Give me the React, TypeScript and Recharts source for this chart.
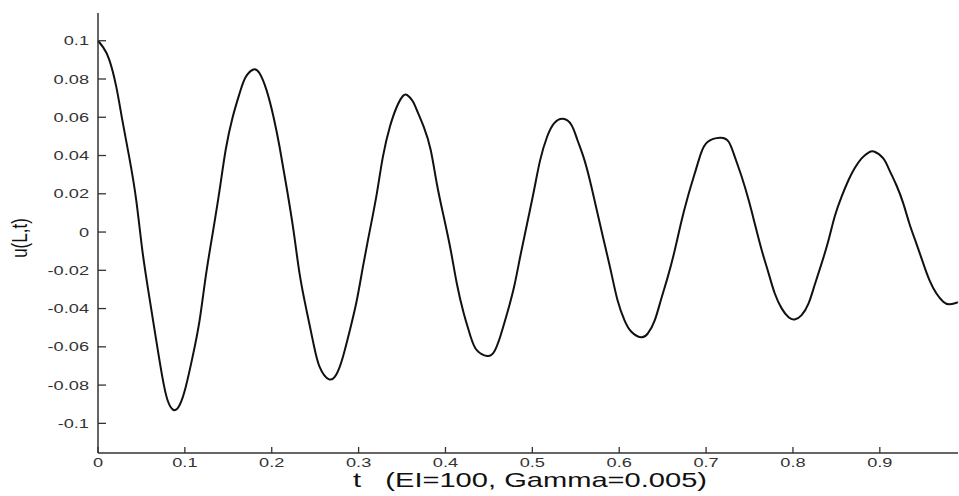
import { LineChart, Line, XAxis, YAxis } from "recharts";

// time samples
const tValues = [
  0, 0.006, 0.013, 0.021, 0.028, 0.036, 0.044, 0.051, 0.059, 0.067,
  0.074, 0.08, 0.087, 0.094, 0.101, 0.109, 0.117, 0.124, 0.132, 0.14,
  0.147, 0.155, 0.163, 0.17, 0.179, 0.186, 0.194, 0.202, 0.209, 0.217,
  0.225, 0.232, 0.24, 0.248, 0.255, 0.266, 0.275, 0.282, 0.29, 0.298,
  0.305, 0.313, 0.321, 0.328, 0.336, 0.344, 0.351, 0.356, 0.362, 0.367,
  0.375, 0.383, 0.39, 0.398, 0.406, 0.413, 0.421, 0.429, 0.436, 0.448,
  0.456, 0.463, 0.471, 0.479, 0.486, 0.494, 0.502, 0.509, 0.517, 0.525,
  0.535, 0.545, 0.552, 0.56, 0.568, 0.575, 0.583, 0.591, 0.598, 0.606,
  0.614, 0.625, 0.633, 0.641, 0.648, 0.656, 0.664, 0.671, 0.679, 0.687,
  0.694, 0.702, 0.716, 0.726, 0.733, 0.741, 0.749, 0.756, 0.764, 0.772,
  0.779, 0.787, 0.795, 0.802, 0.81, 0.818, 0.825, 0.833, 0.841, 0.848,
  0.856, 0.864, 0.871, 0.879, 0.887, 0.894, 0.904, 0.911, 0.919, 0.927,
  0.934, 0.942, 0.95, 0.957, 0.965, 0.973, 0.98, 0.988, 0.99,
];

// u(L,t) at those times
const uValues = [
  0.1, 0.0965, 0.09, 0.076, 0.0585, 0.039, 0.0167, -0.0094, -0.0338, -0.0565,
  -0.0756, -0.0878, -0.093, -0.0904, -0.081, -0.065, -0.046, -0.0233, -0.0007, 0.022,
  0.043, 0.06, 0.0725, 0.081, 0.085, 0.083, 0.0742, 0.0603, 0.0446, 0.0237,
  0.001, -0.0216, -0.0408, -0.0582, -0.0704, -0.077, -0.0739, -0.0652, -0.0512, -0.0355,
  -0.0181, 0.001, 0.0202, 0.0394, 0.055, 0.0655, 0.0711, 0.0716, 0.0686, 0.0638,
  0.055, 0.0429, 0.0254, 0.008, -0.0094, -0.0268, -0.0425, -0.0547, -0.0617, -0.0648,
  -0.0626, -0.0547, -0.0425, -0.0286, -0.0129, 0.0045, 0.022, 0.0376, 0.0498, 0.0568,
  0.0592, 0.056, 0.048, 0.0376, 0.0237, 0.0098, -0.0059, -0.0216, -0.0355, -0.046,
  -0.0521, -0.055, -0.053, -0.046, -0.0355, -0.0233, -0.0094, 0.0045, 0.0185, 0.0307,
  0.041, 0.0472, 0.0493, 0.0472, 0.0394, 0.0289, 0.0167, 0.0045, -0.0094, -0.0216,
  -0.032, -0.0399, -0.0446, -0.0457, -0.0434, -0.0373, -0.0277, -0.0164, -0.0042, 0.008,
  0.0185, 0.0272, 0.0333, 0.0385, 0.0415, 0.042, 0.0385, 0.0324, 0.0246, 0.015,
  0.0045, -0.0059, -0.0164, -0.025, -0.032, -0.0364, -0.0378, -0.037, -0.0368,
];

const xTicks = [0, 0.1, 0.2, 0.3, 0.4, 0.5, 0.6, 0.7, 0.8, 0.9];
const yTicks = [0.1, 0.08, 0.06, 0.04, 0.02, 0, -0.02, -0.04, -0.06, -0.08, -0.1];

const data = tValues.map((t, i) => ({ t, u: uValues[i] }));

const FONT = "'Liberation Sans', Arial, Helvetica, sans-serif";
const fmt = (v: number) => String(Number(v.toFixed(3)));

const LeftTick = (props: any) => {
  const { x, y, payload } = props;
  const ax = x + 9;
  return (
    <g>
      <line x1={ax} y1={y} x2={ax + 8} y2={y} stroke="#333" strokeWidth={1.3} />
      <text
        transform={`translate(${x},${y}) scale(1.4,1)`}
        textAnchor="end"
        dy="0.35em"
        fontSize={13}
        fontFamily={FONT}
        fill="#333"
      >
        {fmt(payload.value)}
      </text>
    </g>
  );
};

const BottomTick = (props: any) => {
  const { x, y, payload } = props;
  return (
    <g>
      <line x1={x} y1={y} x2={x} y2={y - 6} stroke="#333" strokeWidth={1.3} />
      <text
        transform={`translate(${x},${y + 14}) scale(1.4,1)`}
        textAnchor="middle"
        fontSize={13}
        fontFamily={FONT}
        fill="#333"
      >
        {fmt(payload.value)}
      </text>
    </g>
  );
};

const TopTick = (props: any) => {
  const { x, y } = props;
  return <line x1={x} y1={y} x2={x} y2={y + 5} stroke="#444" strokeWidth={1.3} />;
};

const RightTick = (props: any) => {
  const { x, y } = props;
  return <line x1={x} y1={y} x2={x - 4} y2={y} stroke="#bbb" strokeWidth={1} />;
};

const XLabel = (props: any) => {
  const { x, y, width } = props.viewBox;
  const cx = x + width / 2 + 2;
  return (
    <text
      transform={`translate(${cx},${y + 34}) scale(1.42,1)`}
      textAnchor="middle"
      fontSize={20.5}
      fontFamily={FONT}
      fill="#111"
      style={{ whiteSpace: "pre" }}
    >
      {"t   (EI=100, Gamma=0.005)"}
    </text>
  );
};

const YLabel = () => (
  <text
    transform="translate(19,238) rotate(-90) scale(1,1.3)"
    textAnchor="middle"
    dominantBaseline="central"
    fontSize={17}
    fontFamily={FONT}
    fill="#111"
  >
    u(L,t)
  </text>
);

export default function App() {
  return (
    <div style={{ position: "absolute", left: 0, top: 0, background: "#fff" }}>
      <LineChart
        width={959}
        height={496}
        data={data}
        margin={{ top: 13, right: 1, bottom: 0, left: 0 }}
      >
        <XAxis
          xAxisId="bottom"
          dataKey="t"
          type="number"
          domain={[0, 0.99]}
          ticks={xTicks}
          interval={0}
          height={43}
          tickSize={0}
          tickMargin={0}
          tickLine={false}
          tick={<BottomTick />}
          axisLine={{ stroke: "#333", strokeWidth: 1.5 }}
          label={{ content: <XLabel /> }}
        />
        <XAxis
          xAxisId="top"
          orientation="top"
          dataKey="t"
          type="number"
          domain={[0, 0.99]}
          ticks={xTicks}
          interval={0}
          height={0}
          tickSize={0}
          tickMargin={0}
          tickLine={false}
          tick={<TopTick />}
          axisLine={{ stroke: "#555", strokeWidth: 1.2 }}
        />
        <YAxis
          yAxisId="left"
          type="number"
          domain={[-0.1155, 0.1145]}
          ticks={yTicks}
          interval={0}
          width={98}
          tickSize={0}
          tickMargin={9}
          tickLine={false}
          tick={<LeftTick />}
          axisLine={{ stroke: "#333", strokeWidth: 1.5 }}
          label={{ content: <YLabel /> }}
        />
        <YAxis
          yAxisId="right"
          orientation="right"
          type="number"
          domain={[-0.1155, 0.1145]}
          ticks={yTicks}
          interval={0}
          width={0}
          tickSize={0}
          tickMargin={0}
          tickLine={false}
          tick={<RightTick />}
          axisLine={false}
        />
        <Line
          xAxisId="bottom"
          yAxisId="left"
          dataKey="u"
          type="natural"
          stroke="#111"
          strokeWidth={2}
          dot={false}
          isAnimationActive={false}
        />
      </LineChart>
    </div>
  );
}
